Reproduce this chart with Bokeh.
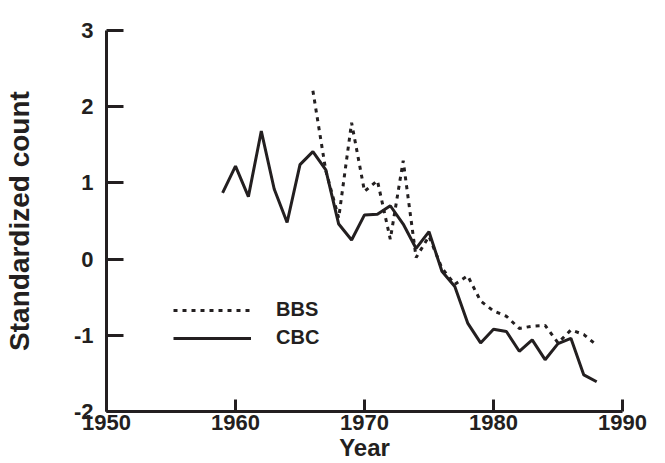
from bokeh.plotting import figure
from bokeh.models import FixedTicker, Range1d, Legend, LegendItem
from bokeh.embed import file_html
from bokeh.resources import INLINE

# ---- data ----
cbc_years = [1959, 1960, 1961, 1962, 1963, 1964, 1965, 1966, 1967, 1968, 1969,
             1970, 1971, 1972, 1973, 1974, 1975, 1976, 1977, 1978, 1979,
             1980, 1981, 1982, 1983, 1984, 1985, 1986, 1987, 1988]
cbc_values = [0.87, 1.22, 0.82, 1.68, 0.92, 0.48, 1.24, 1.41, 1.17, 0.46, 0.25,
              0.58, 0.59, 0.70, 0.46, 0.14, 0.36, -0.16, -0.36, -0.84, -1.10,
              -0.92, -0.95, -1.21, -1.06, -1.32, -1.11, -1.04, -1.52, -1.61]

bbs_years = [1966, 1967, 1968, 1969, 1970, 1971, 1972, 1973, 1974, 1975, 1976,
             1977, 1978, 1979, 1980, 1981, 1982, 1983, 1984, 1985, 1986, 1987, 1988]
bbs_values = [2.21, 1.16, 0.54, 1.79, 0.89, 1.03, 0.26, 1.29, 0.02, 0.30, -0.12,
              -0.33, -0.22, -0.55, -0.68, -0.75, -0.91, -0.88, -0.87, -1.10, -0.93, -0.99, -1.13]

x_ticks = [1950, 1960, 1970, 1980, 1990]
y_ticks = [-2, -1, 0, 1, 2, 3]

INK = "#231f20"
FONT = "Liberation Sans"

p = figure(frame_width=516, frame_height=381, output_backend="svg",
           toolbar_location=None, x_range=Range1d(1950, 1990),
           y_range=Range1d(-2, 3),
           min_border_left=106, min_border_top=30, min_border_right=30,
           min_border_bottom=45)
p.outline_line_color = None
p.grid.visible = False
p.background_fill_color = "white"
p.border_fill_color = "white"

bbs = p.line(bbs_years, bbs_values, line_color=INK, line_width=3,
             line_dash="4 5")
cbc = p.line(cbc_years, cbc_values, line_color=INK, line_width=3)

for ax in (p.xaxis[0], p.yaxis[0]):
    ax.axis_line_width = 3
    ax.axis_line_color = INK
    ax.major_tick_line_width = 3
    ax.major_tick_line_color = INK
    ax.major_tick_out = 0
    ax.minor_tick_line_color = None
    ax.major_label_text_font = FONT
    ax.major_label_text_font_style = "bold"
    ax.major_label_text_color = INK
    ax.axis_label_text_font = FONT
    ax.axis_label_text_font_style = "bold"
    ax.axis_label_text_color = INK

p.xaxis.ticker = FixedTicker(ticks=x_ticks)
p.xaxis.major_label_overrides = {t: str(t) for t in x_ticks}
p.xaxis.major_tick_in = 12
p.xaxis.major_label_text_font_size = "22px"
p.xaxis.major_label_standoff = 3
p.xaxis.axis_label = "Year"
p.xaxis.axis_label_text_font_size = "24px"
p.xaxis.axis_label_standoff = 1

p.yaxis.ticker = FixedTicker(ticks=y_ticks)
p.yaxis.major_label_overrides = {t: str(t) for t in y_ticks}
p.yaxis.major_tick_in = 17
p.yaxis.major_label_text_font_size = "22px"
p.yaxis.major_label_text_baseline = "alphabetic"
p.yaxis.major_label_standoff = 13
p.yaxis.axis_label = "Standardized count"
p.yaxis.axis_label_text_font_size = "28px"
p.yaxis.axis_label_standoff = 36

legend = Legend(items=[LegendItem(label="BBS", renderers=[bbs]),
                       LegendItem(label="CBC", renderers=[cbc])],
                location=(67, 62), orientation="vertical",
                glyph_width=78, glyph_height=20, label_height=20,
                label_standoff=25, spacing=5, padding=0, margin=0,
                border_line_color=None, background_fill_alpha=0,
                label_text_font=FONT, label_text_font_style="bold",
                label_text_font_size="20px", label_text_color=INK)
p.add_layout(legend)

open("out.html", "w").write(file_html(p, INLINE))
